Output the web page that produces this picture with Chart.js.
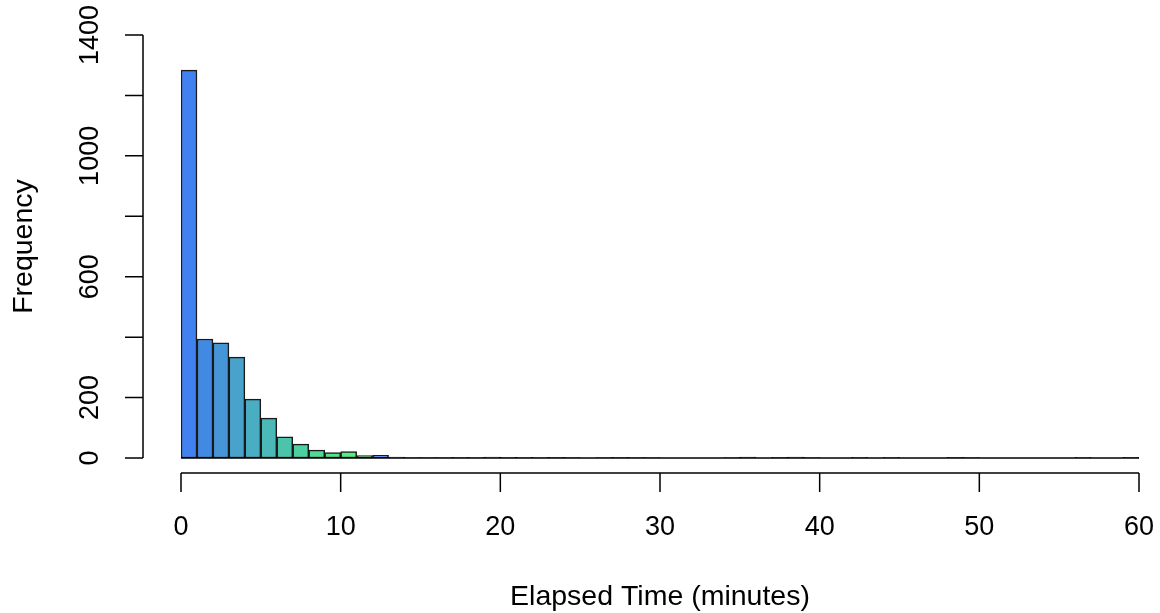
<!DOCTYPE html>
<html>
<head>
<meta charset="utf-8">
<script src="https://cdn.jsdelivr.net/npm/chart.js@4/dist/chart.umd.min.js"></script>
<style>
  html, body { margin: 0; background: #fff; }
</style>
</head>
<body>
<canvas id="chart" width="1160" height="613"></canvas>
<script>
(function(){
  // bin start (minutes), each bin is 1 minute wide
  const binStarts = [0,1,2,3,4,5,6,7,8,9,10,11,12,13,14,15,16,17,18,19,
                     20,21,22,23,24,25,26,27,28,29,30,31,32,33,34,35,36,37,38,39,
                     40,41,42,43,44,45,46,47,48,49,50,51,52,53,54,55,56,57,58,59];
  const counts = [1284,394,381,334,195,132,70,46,26,18,21,8,9,3,1,1,1,2,1,3,
                  2,2,1,2,1,0,1,2,1,1,0,0,0,0,1,3,0,2,3,1,
                  0,0,2,0,2,0,0,0,2,1,0,0,0,0,0,0,2,0,0,2];
  const xTicks = [0,10,20,30,40,50,60];
  const yTicks = [0,200,400,600,800,1000,1200,1400];
  const yTickLabels = ['0','200','','600','','1000','','1400'];
  const xTitle = 'Elapsed Time (minutes)';
  const yTitle = 'Frequency';

  const palette = ['#4281f0','#418ae3','#4696d7','#49a2cc','#4aaec3','#4ab9b7','#4bc4ab',
                   '#4dd0a0','#4fdb94','#50e58a','#52ee80','#3e9a4a'];
  const FONT = '"Liberation Sans", Arial, Helvetica, sans-serif';

  // R-style detached axes
  const rAxes = {
    id: 'rAxes',
    afterDraw(chart){
      const {ctx, scales:{x, y}} = chart;
      const y0 = y.getPixelForValue(0);
      ctx.save();
      ctx.strokeStyle = '#000';
      ctx.fillStyle = '#000';
      ctx.lineWidth = 1.5;

      // zero line under the bins
      ctx.beginPath();
      ctx.moveTo(x.getPixelForValue(binStarts[0]), y0);
      ctx.lineTo(x.getPixelForValue(binStarts[binStarts.length-1] + 1), y0);
      ctx.stroke();

      // y axis
      const ax = x.left - 38;
      ctx.beginPath();
      ctx.moveTo(ax, y.getPixelForValue(yTicks[0]));
      ctx.lineTo(ax, y.getPixelForValue(yTicks[yTicks.length-1]));
      yTicks.forEach(v=>{
        const py = y.getPixelForValue(v);
        ctx.moveTo(ax, py); ctx.lineTo(ax - 18, py);
      });
      ctx.stroke();

      // x axis
      const ay = y0 + 15;
      ctx.beginPath();
      ctx.moveTo(x.getPixelForValue(xTicks[0]), ay);
      ctx.lineTo(x.getPixelForValue(xTicks[xTicks.length-1]), ay);
      xTicks.forEach(v=>{
        const px = x.getPixelForValue(v);
        ctx.moveTo(px, ay); ctx.lineTo(px, ay + 19);
      });
      ctx.stroke();

      // tick labels
      ctx.font = '27px ' + FONT;
      ctx.textAlign = 'center';
      ctx.textBaseline = 'middle';
      xTicks.forEach(v=>{
        ctx.fillText(String(v), x.getPixelForValue(v), ay + 55);
      });
      yTicks.forEach((v,i)=>{
        if(!yTickLabels[i]) return;
        ctx.save();
        ctx.translate(91, y.getPixelForValue(v));
        ctx.rotate(-Math.PI/2);
        ctx.fillText(yTickLabels[i], 0, 0);
        ctx.restore();
      });

      // titles
      ctx.font = '28.5px ' + FONT;
      ctx.fillText(xTitle, (x.left + x.right)/2, y0 + 139);
      ctx.save();
      ctx.translate(24, (y.top + y.bottom)/2);
      ctx.rotate(-Math.PI/2);
      ctx.fillText(yTitle, 0, 0);
      ctx.restore();

      ctx.restore();
    }
  };

  new Chart(document.getElementById('chart'), {
    type: 'bar',
    data: {
      datasets: [{
        data: binStarts.map((s,i)=>({ x: s + 0.5, y: counts[i] })),
        backgroundColor: binStarts.map((s,i)=> palette[i % palette.length]),
        borderColor: '#1a1a1a',
        borderWidth: 1.5,
        barPercentage: 1,
        categoryPercentage: 1,
        borderSkipped: false
      }]
    },
    options: {
      responsive: false,
      animation: false,
      devicePixelRatio: 1,
      layout: { padding: { left: 181, right: 21, top: 35, bottom: 155 } },
      plugins: { legend: { display: false }, tooltip: { enabled: false } },
      scales: {
        x: { type: 'linear', min: 0, max: 60, offset: false, display: false },
        y: { min: 0, max: 1400, display: false }
      }
    },
    plugins: [rAxes]
  });
})();
</script>
</body>
</html>
